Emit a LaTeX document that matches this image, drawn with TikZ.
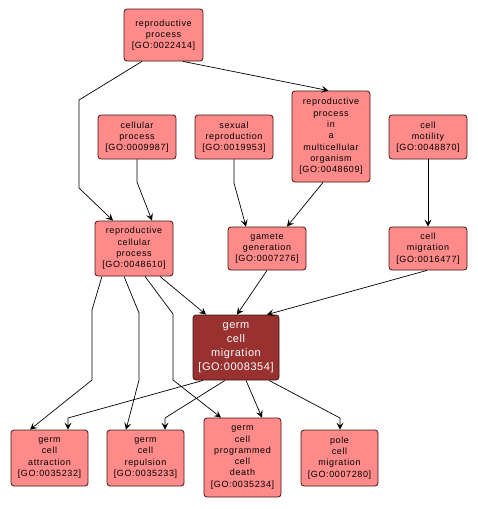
\documentclass[tikz,border=0pt]{standalone}
\usepackage{fontspec}
\setmainfont{Liberation Sans}
\newfontfamily\gofont[LetterSpace=7]{Liberation Sans}
\newfontfamily\gofontb[LetterSpace=5]{Liberation Sans}
\usetikzlibrary{arrows.meta}
\definecolor{gofill}{RGB}{255,138,138}
\definecolor{godraw}{RGB}{70,20,20}
\definecolor{gomain}{RGB}{153,49,49}
\tikzset{
  term/.style={draw=godraw, fill=gofill, rounded corners=3pt, line width=0.8pt,
    inner sep=0pt, align=center, text=black,
    font=\gofont\fontsize{9}{11.3}\selectfont},
  mainterm/.style={term, fill=gomain, text=white,
    font=\gofontb\fontsize{11}{14}\selectfont},
  edge/.style={draw=black, line width=0.7pt,
    -{Stealth[length=7pt,width=7pt,inset=3pt]}}
}
\begin{document}
\begin{tikzpicture}[x=1pt,y=-1pt]
\fill[white] (0,0) rectangle (477,509);
\useasboundingbox (0,0) rectangle (477,509);

\node[term, minimum width=79pt, minimum height=52pt] (rp) at (163.5,35) {reproductive\\process\\{[GO:0022414]}};
\node[term, minimum width=78pt, minimum height=44pt] (cp) at (137,137) {cellular\\process\\{[GO:0009987]}};
\node[term, minimum width=78pt, minimum height=44pt] (sr) at (234,137) {sexual\\reproduction\\{[GO:0019953]}};
\node[term, minimum width=78pt, minimum height=91pt] (rpm) at (331,136.5) {reproductive\\process\\in\\a\\multicellular\\organism\\{[GO:0048609]}};
\node[term, minimum width=78pt, minimum height=44pt] (cmo) at (428,137) {cell\\motility\\{[GO:0048870]}};
\node[term, minimum width=78pt, minimum height=55pt] (rcp) at (134,248.5) {reproductive\\cellular\\process\\{[GO:0048610]}};
\node[term, minimum width=78pt, minimum height=43pt] (gg) at (267,248.5) {gamete\\generation\\{[GO:0007276]}};
\node[term, minimum width=78pt, minimum height=43pt] (cmig) at (428,248.5) {cell\\migration\\{[GO:0016477]}};
\node[mainterm, minimum width=86pt, minimum height=65pt] (gcm) at (236,347.5) {germ\\cell\\migration\\{[GO:0008354]}};
\node[term, minimum width=77pt, minimum height=56pt] (gca) at (49.5,458) {germ\\cell\\attraction\\{[GO:0035232]}};
\node[term, minimum width=77pt, minimum height=56pt] (gcr) at (145.5,458) {germ\\cell\\repulsion\\{[GO:0035233]}};
\node[term, minimum width=77pt, minimum height=79pt] (pcd) at (242.5,457.5) {germ\\cell\\programmed\\cell\\death\\{[GO:0035234]}};
\node[term, minimum width=77pt, minimum height=56pt] (pole) at (339.5,458) {pole\\cell\\migration\\{[GO:0007280]}};

\draw[edge] ([xshift=-21.5pt]rp.south) -- (79,100) -- (79,188) -- ([xshift=-21pt]rcp.north);
\draw[edge] ([xshift=19.5pt]rp.south) -- ([xshift=-2.5pt]rpm.north);
\draw[edge] (cp.south) -- (137,182) -- ([xshift=18pt]rcp.north);
\draw[edge] (sr.south) -- (234,183) -- ([xshift=-21pt]gg.north);
\draw[edge] ([xshift=-8pt]rpm.south) -- ([xshift=20pt]gg.north);
\draw[edge] (cmo.south) -- (cmig.north);
\draw[edge] ([xshift=-1pt]cmig.south) -- ([xshift=31pt]gcm.north);
\draw[edge] (gg.south) -- ([xshift=1pt]gcm.north);
\draw[edge] ([xshift=26pt]rcp.south) -- ([xshift=-30pt]gcm.north);
\draw[edge] ([xshift=-32pt]rcp.south) -- (92,310) -- (92,380) -- ([xshift=-19.5pt]gca.north);
\draw[edge] ([xshift=-10pt]rcp.south) -- (139,313) -- (139,380) -- ([xshift=-19.5pt]gcr.north);
\draw[edge] ([xshift=11pt]rcp.south) -- (173,314) -- (173,380) -- ([xshift=-21.5pt]pcd.north);
\draw[edge] ([xshift=-33pt]gcm.south) -- (68,418) -- ([xshift=18.5pt]gca.north);
\draw[edge] ([xshift=-11pt]gcm.south) -- (165,418) -- ([xshift=19.5pt]gcr.north);
\draw[edge] ([xshift=10pt]gcm.south) -- ([xshift=19.5pt]pcd.north);
\draw[edge] ([xshift=33pt]gcm.south) -- (340,418) -- ([xshift=0.5pt]pole.north);
\end{tikzpicture}
\end{document}
